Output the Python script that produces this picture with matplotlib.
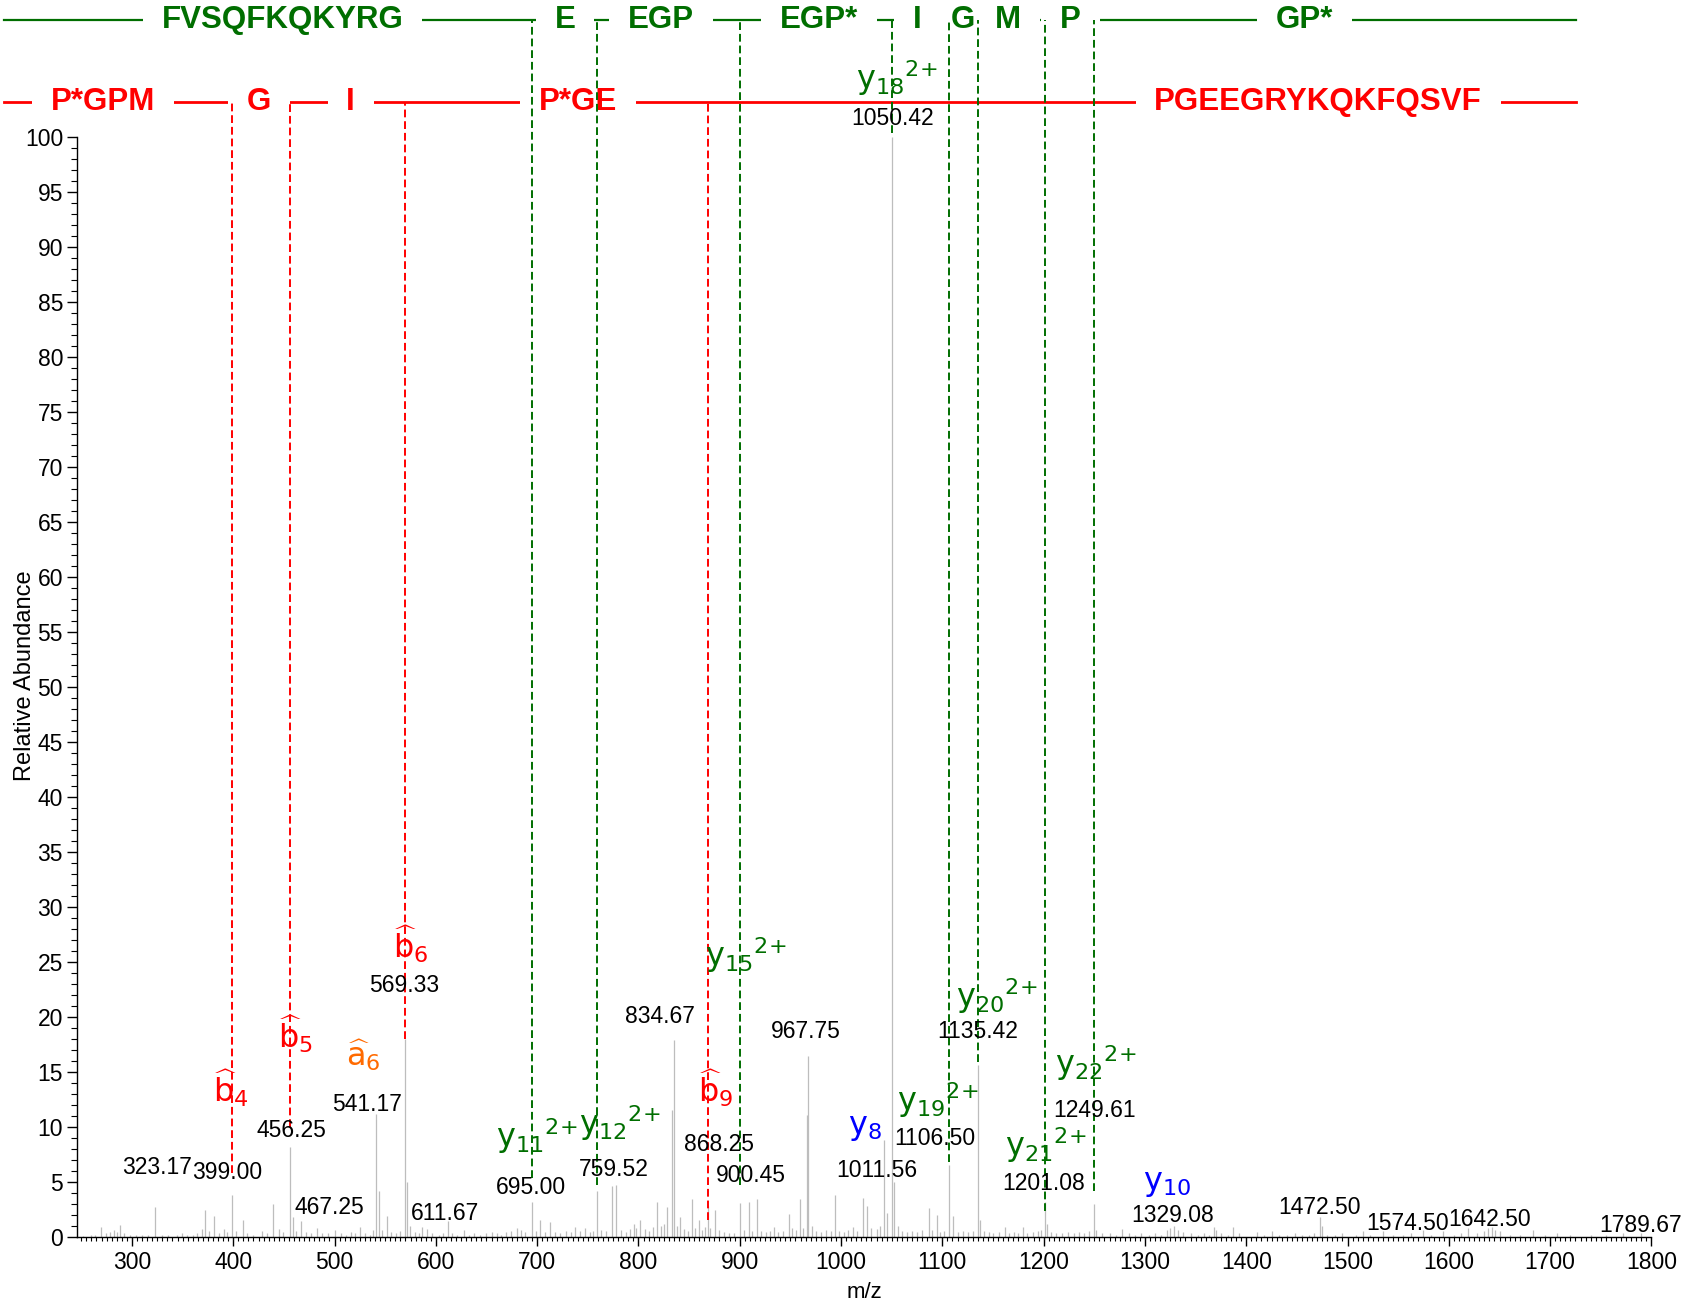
import numpy as np
import matplotlib.pyplot as plt
from matplotlib.ticker import MultipleLocator

plt.rcParams['font.family'] = ['Liberation Sans', 'DejaVu Sans']

# centroided spectrum: m/z and relative abundance (%)
peak_mz = [251.8, 259.7, 263.5, 269.6, 274, 278.1, 282, 285, 288, 292, 297.8,
           304.4, 310, 316, 323.17, 329.8, 336, 344.6, 349, 354.5, 360, 364.3, 369.3, 372.5, 376, 381.4, 386, 391.3, 394, 399.00,
           403, 409.7, 414, 420, 428.5, 433, 439.4, 444.9, 449, 456.25, 459, 462, 467.25, 472, 477, 482.8, 488, 494, 500.8,
           506, 511, 516, 520, 525.5, 530, 535, 538, 541.17, 543.6, 547, 551.8, 556, 561, 565, 569.33, 571.6, 574.8, 579, 583, 586.4, 591.3, 596,
           603, 607, 611.67, 616, 621, 628, 633, 638, 644, 650, 655, 660, 664, 669, 674, 680, 684, 688, 695.00, 699,
           703, 708, 713, 718, 723, 728, 733, 737.7, 742, 747.5, 752, 755, 759.52, 763, 768, 773.9, 778.1, 783, 788, 792, 795.2, 798,
           801.8, 806, 810, 814, 818.3, 822, 825, 828.1, 833.1, 834.67, 838, 841.3, 845, 849, 852.9, 856, 859.4, 863, 866, 868.25, 871, 875.9, 880, 884, 889, 894,
           900.45, 904, 908.7, 912, 917, 921, 926, 930, 933.4, 938, 943, 948.2, 952, 956, 959.1, 962, 966.5, 967.75, 971, 975, 980, 985, 990, 994.3, 998,
           1003, 1007, 1011.56, 1016, 1021.6, 1025.5, 1030, 1035, 1038, 1042, 1045.5, 1050.42, 1052.7, 1056, 1060, 1065, 1070, 1075, 1080, 1086.4, 1090, 1094.6, 1098,
           1102, 1106.50, 1111, 1115, 1120, 1125, 1130, 1135.42, 1137.4, 1141, 1146, 1150, 1156, 1161.5, 1166, 1171, 1175, 1179.6, 1184, 1189, 1194, 1197,
           1201.08, 1203, 1207, 1212, 1218, 1224, 1230, 1235, 1240, 1245, 1249.61, 1252, 1258, 1265, 1271, 1277.5, 1284, 1290, 1296,
           1304, 1310, 1316, 1322, 1325, 1329.08, 1333, 1338, 1345, 1352, 1358, 1363, 1368, 1370.3, 1375, 1382, 1387.3, 1393,
           1410.4, 1418, 1425.3, 1432, 1440, 1448, 1455, 1462, 1467, 1472.50, 1474.6, 1480, 1488, 1495,
           1508, 1515.7, 1522, 1535.4, 1545, 1555, 1563, 1574.50, 1582, 1594.6,
           1605, 1612, 1619.3, 1628, 1635, 1639, 1642.50, 1646, 1650.5, 1660, 1670, 1683.4, 1695, 1706.5, 1720, 1740, 1755, 1772.2, 1789.67]
peak_int = [0.1, 0.2, 0.15, 0.9, 0.3, 0.4, 0.6, 0.4, 1.1, 0.3, 0.2,
            0.2, 0.15, 0.2, 2.7, 0.2, 0.15, 0.2, 0.3, 0.2, 0.2, 0.3, 0.7, 2.4, 0.5, 1.9, 0.3, 0.7, 0.4, 3.8,
            0.5, 1.5, 0.3, 0.2, 0.5, 0.3, 3.0, 0.7, 0.4, 8.2, 1.8, 0.5, 1.4, 0.4, 0.3, 0.8, 0.3, 0.3, 0.6,
            0.3, 0.2, 0.4, 0.3, 0.9, 0.3, 0.2, 0.6, 11.2, 4.2, 0.6, 1.9, 0.4, 0.3, 0.5, 18.0, 5.0, 1.0, 0.4, 0.3, 0.9, 0.7, 0.3,
            0.2, 0.3, 1.4, 0.3, 0.2, 0.6, 0.2, 0.3, 0.2, 0.3, 0.4, 0.3, 0.2, 0.4, 0.5, 0.8, 0.6, 0.4, 3.2, 0.5,
            1.5, 0.4, 1.3, 0.4, 0.3, 0.5, 0.4, 0.9, 0.5, 0.8, 0.4, 0.5, 4.2, 0.6, 0.5, 4.6, 4.7, 0.6, 0.4, 0.7, 1.2, 0.8,
            1.5, 0.7, 0.5, 0.9, 3.2, 1.0, 1.2, 2.7, 11.5, 17.9, 1.0, 1.8, 0.7, 0.5, 3.4, 0.8, 1.5, 0.6, 0.9, 2.8, 0.8, 2.4, 0.6, 0.4, 0.3, 0.3,
            3.1, 0.6, 3.2, 0.5, 3.4, 0.5, 0.4, 0.5, 0.9, 0.4, 0.5, 2.1, 0.8, 0.6, 3.4, 0.8, 11.1, 16.4, 1.0, 0.5, 0.4, 0.6, 0.5, 3.8, 0.5,
            0.4, 0.6, 0.9, 0.5, 3.5, 2.8, 0.8, 0.7, 1.0, 8.8, 2.2, 100.0, 5.0, 1.0, 0.5, 0.4, 0.5, 0.4, 0.6, 2.6, 0.6, 2.0, 0.4,
            0.5, 6.5, 1.9, 0.4, 0.5, 0.4, 0.5, 15.6, 1.5, 0.5, 0.4, 0.3, 0.4, 0.9, 0.3, 0.4, 0.3, 0.9, 0.3, 0.4, 0.5, 0.6,
            3.2, 1.2, 0.4, 0.3, 0.3, 0.4, 0.3, 0.4, 0.3, 0.5, 3.0, 0.6, 0.3, 0.3, 0.2, 0.7, 0.3, 0.2, 0.3,
            0.2, 0.3, 0.2, 0.6, 0.8, 1.0, 0.6, 0.4, 0.3, 0.2, 0.3, 0.2, 0.9, 0.6, 0.3, 0.2, 0.9, 0.3,
            0.4, 0.2, 0.5, 0.2, 0.2, 0.3, 0.2, 0.2, 0.3, 1.8, 1.0, 0.2, 0.2, 0.3,
            0.2, 0.5, 0.2, 0.5, 0.2, 0.2, 0.3, 0.6, 0.2, 0.5,
            0.2, 0.3, 0.8, 0.3, 0.5, 0.8, 0.9, 0.6, 0.5, 0.2, 0.2, 0.6, 0.2, 0.3, 0.2, 0.2, 0.2, 0.3, 0.3]

# m/z labels printed over peaks (value, text x, text y)
mz_labels = [323.17, 399.00, 456.25, 467.25, 541.17, 569.33, 611.67, 695.00, 759.52, 834.67,
             868.25, 900.45, 967.75, 1011.56, 1050.42, 1106.50, 1135.42, 1201.08, 1249.61,
             1329.08, 1472.50, 1574.50, 1642.50, 1789.67]
mz_label_x = [324.3, 394.0, 457.6, 494.6, 532.0, 569.0, 609.4, 694.0, 776.0, 821.0,
              879.7, 910.5, 965.7, 1035.0, 1050.9, 1092.5, 1135.0, 1199.8, 1249.9,
              1327.5, 1471.9, 1559.0, 1640.0, 1788.8]
mz_label_y = [6.3, 5.8, 9.7, 2.7, 12.0, 22.8, 2.1, 4.5, 6.1, 20.0,
              8.4, 5.6, 18.7, 6.0, 101.7, 8.9, 18.7, 4.8, 11.5,
              1.9, 2.7, 1.2, 1.6, 1.0]

# fragment ion annotations
ion_names = [r'\widehat{b}_4', r'\widehat{b}_5', r'\widehat{a}_6', r'\widehat{b}_6', r'\widehat{b}_9',
             r'y_{11}{}^{2{+}}', r'y_{12}{}^{2{+}}', r'y_{15}{}^{2{+}}', r'y_8', r'y_{18}{}^{2{+}}',
             r'y_{19}{}^{2{+}}', r'y_{20}{}^{2{+}}', r'y_{21}{}^{2{+}}', r'y_{22}{}^{2{+}}', r'y_{10}']
ion_x = [397.8, 461.7, 528.4, 575.4, 876.5, 699.5, 781.5, 906.0, 1023.3, 1055.0,
         1095.5, 1153.5, 1202.0, 1251.5, 1322.2]
ion_y = [13.5, 18.4, 16.5, 26.6, 13.5, 9.1, 10.3, 25.6, 9.9, 105.3,
         12.4, 21.9, 8.3, 15.8, 4.8]
ion_colors = ['red', 'red', '#FF6A00', 'red', 'red', '#006E00', '#006E00', '#006E00', 'blue', '#006E00',
              '#006E00', '#006E00', '#006E00', '#006E00', 'blue']

# cleavage sites (b ions, y ions) and where each dashed guide stops
b_sites = [399.00, 456.25, 569.33, 868.25]
b_stop = [5.8, 10.0, 18.0, 1.5]
y_sites = [695.00, 759.52, 900.45, 1050.42, 1106.50, 1135.42, 1201.08, 1249.61]
y_stop = [5.3, 4.7, 4.7, 100.3, 6.8, 15.9, 2.3, 4.2]

# sequence ladders
y_seq = ['FVSQFKQKYRG', 'E', 'EGP', 'EGP*', 'I', 'G', 'M', 'P', 'GP*']
y_seq_x = [448.9, 727.6, 822.2, 978.6, 1075.4, 1120.0, 1164.7, 1226.4, 1457.2]
b_seq = ['P*GPM', 'G', 'I', 'P*GE', 'PGEEGRYKQKFQSVF']
b_seq_x = [271.3, 425.5, 515.9, 740.4, 1471.0]
ladder_span = [173.4, 1725.2]
y_row, b_row = 110.6, 103.2

green = '#006E00'

fig = plt.figure(figsize=(16.9, 13.01), dpi=100)
ax = fig.add_axes([0.0457, 0.0494, 0.9315, 0.8455])

ax.vlines(peak_mz, 0, peak_int, color='#BDBDBD', lw=0.9, zorder=2)

ax.set_xlim(246, 1800)
ax.set_ylim(0, 100)
for s in ['top', 'right']:
    ax.spines[s].set_visible(False)
for s in ['left', 'bottom']:
    ax.spines[s].set_linewidth(1.0)
ax.yaxis.set_zorder(6)

ax.xaxis.set_major_locator(MultipleLocator(100))
ax.xaxis.set_minor_locator(MultipleLocator(5))
ax.yaxis.set_major_locator(MultipleLocator(5))
ax.yaxis.set_minor_locator(MultipleLocator(1))
ax.tick_params(axis='x', which='major', length=6.5, width=1.0, labelsize=16.5, pad=4)
ax.tick_params(axis='x', which='minor', length=3, width=0.8)
ax.tick_params(axis='y', which='major', length=7.2, width=1.0, labelsize=16.5, pad=3)
ax.tick_params(axis='y', which='minor', length=4.3, width=0.8)

ax.set_xlabel('m/z', fontsize=16)
ax.set_ylabel('Relative Abundance', fontsize=17)
ax.xaxis.set_label_coords(0.5, -0.041)
ax.yaxis.set_label_coords(-0.026, 0.51)

# m/z values above peaks
for v, tx, ty in zip(mz_labels, mz_label_x, mz_label_y):
    ax.text(tx, ty, f'{v:.2f}', ha='center', va='center', fontsize=16.5, zorder=7)

# ion labels
for name, tx, ty, c in zip(ion_names, ion_x, ion_y, ion_colors):
    ax.text(tx, ty, r'$\mathregular{' + name + '}$', ha='center', va='center',
            fontsize=23, color=c, family='DejaVu Sans', zorder=7)

# ladder lines and residues
ax.plot(ladder_span, [y_row, y_row], color=green, lw=1.6, clip_on=False, zorder=3)
ax.plot(ladder_span, [b_row, b_row], color='red', lw=2.0, clip_on=False, zorder=3)
box = dict(boxstyle='square,pad=0.6', fc='white', ec='none')
for s, x in zip(y_seq, y_seq_x):
    ax.text(x, y_row, s, ha='center', va='center', fontsize=22.5, fontweight='bold',
            color=green, bbox=box, zorder=4)
for s, x in zip(b_seq, b_seq_x):
    ax.text(x, b_row, s, ha='center', va='center', fontsize=22.5, fontweight='bold',
            color='red', bbox=box, zorder=4)

# dashed guides from the ladder down to the matched peaks
ax.vlines(b_sites, b_stop, b_row, color='red', lw=1.4, linestyles=(0, (4, 2)),
          clip_on=False, zorder=5)
ax.vlines(y_sites, y_stop, y_row, color=green, lw=1.4, linestyles=(0, (4, 2)),
          clip_on=False, zorder=5)

fig.savefig('out.png', dpi=100)
